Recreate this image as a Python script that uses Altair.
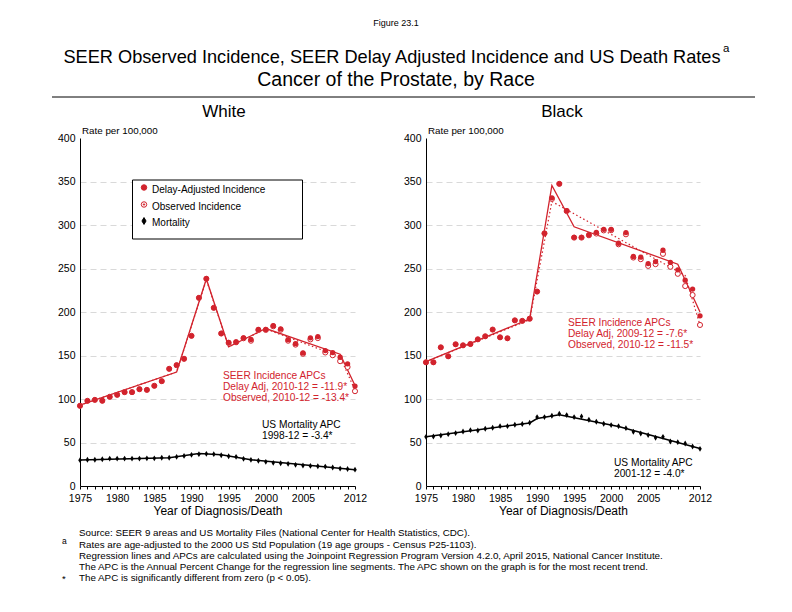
import altair as alt
import pandas as pd

FONT = "Liberation Sans"
RED = "#d2232d"

years = list(range(1975, 2013))
label_years = [1975, 1980, 1985, 1990, 1995, 2000, 2005, 2012]
y_ticks = [0, 50, 100, 150, 200, 250, 300, 350, 400]

white_delay = [92.2, 97.9, 99.0, 98.0, 102.5, 104.8, 107.9, 107.9, 111.3, 110.5,
               115.2, 120.5, 134.7, 138.9, 146.2, 172.6, 216.3, 238.2, 204.8, 175.3,
               165.0, 165.5, 170.3, 168.4, 179.9, 180.0, 184.3, 180.5, 168.2, 163.6,
               153.0, 170.3, 171.8, 155.7, 153.4, 148.0, 140.4, 114.8]
white_obs = [92.2, 97.9, 99.0, 98.0, 102.5, 104.8, 107.9, 107.9, 111.3, 110.5,
             115.2, 120.5, 134.7, 138.9, 146.2, 172.6, 216.3, 238.2, 204.8, 175.3,
             164.5, 165.2, 169.8, 167.0, 179.3, 179.4, 183.6, 179.6, 167.0, 162.5,
             152.0, 168.5, 170.0, 153.5, 150.3, 143.5, 136.8, 109.0]
white_mort = [29.7, 30.2, 30.2, 30.7, 31.5, 31.5, 31.5, 31.5, 31.5, 31.8,
              31.8, 32.5, 32.5, 33.5, 34.6, 35.8, 36.6, 37.0, 36.6, 35.4,
              34.2, 33.5, 31.2, 30.1, 29.0, 27.8, 26.6, 26.2, 25.5, 24.3,
              23.5, 23.1, 22.7, 22.3, 21.2, 20.0, 19.6, 18.8]

white_fit_years = [1975, 1988, 1992, 1995, 2000, 2010, 2012]
white_fit_delay = [93.0, 131.0, 238.0, 160.0, 181.0, 151.5, 115.5]
white_fit_obs_years = [1975, 1988, 1992, 1995, 2000, 2010, 2012]
white_fit_obs = [93.0, 131.0, 237.0, 160.0, 180.5, 148.5, 110.0]
white_fit_mort_years = [1975, 1987, 1991, 1994, 1998, 2012]
white_fit_mort = [30.0, 32.5, 37.3, 35.8, 30.3, 18.8]

black_delay = [142.2, 142.2, 159.4, 149.1, 162.9, 161.7, 163.2, 168.6, 172.1, 179.8,
               170.9, 169.8, 190.4, 189.8, 192.3, 223.5, 290.4, 331.2, 347.3, 316.5,
               285.8, 285.8, 288.8, 291.5, 295.0, 295.0, 279.0, 291.3, 263.8, 263.0,
               255.7, 258.0, 271.0, 257.0, 248.5, 236.6, 226.3, 195.6]
black_obs = [142.2, 142.2, 159.4, 149.1, 162.9, 161.7, 163.2, 168.6, 172.1, 179.8,
             170.9, 169.8, 190.4, 189.8, 192.3, 223.5, 290.4, 330.0, 347.3, 316.0,
             285.5, 285.5, 288.2, 290.2, 293.8, 294.0, 277.8, 289.3, 262.6, 260.7,
             253.0, 255.0, 266.8, 252.0, 243.9, 229.8, 219.5, 185.1]
black_mort = [56.5, 56.9, 58.0, 59.6, 60.8, 62.7, 64.2, 63.8, 65.8, 66.9,
              68.8, 68.8, 70.4, 71.2, 72.7, 79.2, 79.2, 80.8, 83.1, 81.5,
              79.2, 80.0, 76.2, 73.8, 71.5, 70.0, 68.8, 66.5, 62.3, 60.4,
              58.5, 55.4, 56.5, 51.2, 50.4, 48.8, 45.4, 42.7]

black_fit_years = [1975, 1989, 1992, 1995, 2009, 2012]
black_fit_delay = [143.0, 192.0, 345.5, 298.0, 255.0, 200.0]
black_fit_obs_years = [1975, 1989, 1992, 2010, 2012]
black_fit_obs = [143.0, 191.0, 327.0, 242.0, 185.0]
black_fit_mort_years = [1975, 1989, 1990, 1993, 2001, 2012]
black_fit_mort = [56.5, 72.5, 77.5, 82.0, 68.5, 43.0]

W, H = 776, 588
Y_RANGE = [478, 130]
MORT_SHAPE = "M0,-1.25L0.75,0L0,1.25L-0.75,0Z"


def panel(delay, obs, mort, fy, fd, foy, fo, fmy, fm, xr):
    xs = alt.Scale(domain=[1975, 2012], range=xr, nice=False, zero=False)
    ys = alt.Scale(domain=[0, 400], range=Y_RANGE, nice=False)
    labels = ",".join(str(v) for v in label_years)
    xaxis = alt.Axis(values=years, orient="bottom", offset=-(H - Y_RANGE[0]),
                     labelExpr="indexof([" + labels + "], datum.value) >= 0 ? '' + datum.value : ''",
                     tickSize=3, tickColor="black", domainColor="black",
                     labelColor="black", labelFont=FONT, labelFontSize=10.5,
                     labelPadding=4, labelOverlap=False, labelFlush=False,
                     title="Year of Diagnosis/Death", titleFont=FONT,
                     titleFontSize=12, titleFontWeight="normal", titleColor="black",
                     titlePadding=2, grid=False)
    yaxis = alt.Axis(values=y_ticks, orient="left", offset=-xr[0], ticks=False,
                     labelPadding=5, labelFont=FONT, labelFontSize=10.5,
                     labelColor="black", domainColor="black", title=None,
                     grid=True, gridColor="#d9d9d9", gridDash=[6, 4],
                     gridOpacity={"condition": {"test": "datum.value == 0 || datum.value == 400",
                                                "value": 0}, "value": 1})
    pts = pd.DataFrame({"year": years, "delay": delay, "obs": obs, "mort": mort})
    base = alt.Chart(pts)
    X = alt.X("year:Q", scale=xs, axis=xaxis)

    fit_d = alt.Chart(pd.DataFrame({"year": fy, "v": fd})).mark_line(
        color=RED, strokeWidth=1.3).encode(x=X, y=alt.Y("v:Q", scale=ys, axis=yaxis))
    fit_o = alt.Chart(pd.DataFrame({"year": foy, "v": fo})).mark_line(
        color=RED, strokeWidth=1.2, strokeDash=[1.5, 2.5]).encode(
        x=X, y=alt.Y("v:Q", scale=ys, axis=yaxis))
    fit_m = alt.Chart(pd.DataFrame({"year": fmy, "v": fm})).mark_line(
        color="black", strokeWidth=1.5).encode(x=X, y=alt.Y("v:Q", scale=ys, axis=yaxis))
    obs_pts = base.mark_point(shape="circle", filled=True, fill="white", stroke=RED,
                              strokeWidth=1, size=26, opacity=1).encode(
        x=X, y=alt.Y("obs:Q", scale=ys, axis=yaxis))
    del_pts = base.mark_point(shape="circle", filled=True, color=RED, size=28,
                              opacity=1).encode(x=X, y=alt.Y("delay:Q", scale=ys, axis=yaxis))
    mort_pts = base.mark_point(shape=MORT_SHAPE, filled=True, color="black", size=22,
                               opacity=1).encode(x=X, y=alt.Y("mort:Q", scale=ys, axis=yaxis))
    return alt.layer(fit_d, fit_o, obs_pts, del_pts, fit_m, mort_pts)


def txt(s, x, y, size=10.5, color="black", align="left", baseline="middle"):
    return alt.Chart(pd.DataFrame({"t": [s]})).mark_text(
        align=align, baseline=baseline, fontSize=size, font=FONT, color=color).encode(
        text="t:N", x=alt.value(x), y=alt.value(y))


def sym(x, y, shape, fill, stroke, size):
    return alt.Chart(pd.DataFrame({"t": [0]})).mark_point(
        shape=shape, filled=True, fill=fill, stroke=stroke, strokeWidth=1,
        size=size, opacity=1).encode(x=alt.value(x), y=alt.value(y))


white = panel(white_delay, white_obs, white_mort, white_fit_years, white_fit_delay,
              white_fit_obs_years, white_fit_obs, white_fit_mort_years, white_fit_mort,
              [72, 347])
black = panel(black_delay, black_obs, black_mort, black_fit_years, black_fit_delay,
              black_fit_obs_years, black_fit_obs, black_fit_mort_years, black_fit_mort,
              [418, 692])

legend_box = alt.Chart(pd.DataFrame({"t": [0]})).mark_rect(
    fill="white", stroke="black", strokeWidth=1).encode(
    x=alt.value(124.5), x2=alt.value(294.5), y=alt.value(172), y2=alt.value(231))
rule_line = alt.Chart(pd.DataFrame({"t": [0]})).mark_rule(
    color="black", strokeWidth=1).encode(
    x=alt.value(44), x2=alt.value(747), y=alt.value(89))

annotations = [
    txt("Figure 23.1", 388, 15, size=9, align="center"),
    txt("SEER Observed Incidence, SEER Delay Adjusted Incidence and US Death Rates",
        384, 50, size=18.2, align="center"),
    txt("a", 715, 41, size=11.5),
    txt("Cancer of the Prostate, by Race", 388, 72, size=19.5, align="center"),
    txt("White", 216, 104, size=17, align="center"),
    txt("Black", 554, 104, size=17, align="center"),
    txt("Rate per 100,000", 74, 123, size=9.8),
    txt("Rate per 100,000", 420, 123, size=9.8),
    txt("Delay-Adjusted Incidence", 144, 182, size=10),
    txt("Observed Incidence", 144, 198.5, size=10),
    txt("Mortality", 144, 215, size=10),
    txt("SEER Incidence APCs", 215, 368, size=10.2, color=RED),
    txt("Delay Adj, 2010-12 = -11.9*", 215, 379, size=10.2, color=RED),
    txt("Observed, 2010-12 = -13.4*", 215, 390, size=10.2, color=RED),
    txt("US Mortality APC", 254, 417, size=10.2),
    txt("1998-12 = -3.4*", 254, 428, size=10.2),
    txt("SEER Incidence APCs", 560, 314.5, size=10.2, color=RED),
    txt("Delay Adj, 2009-12 = -7.6*", 560, 325.5, size=10.2, color=RED),
    txt("Observed, 2010-12 = -11.5*", 560, 336.5, size=10.2, color=RED),
    txt("US Mortality APC", 606, 454.5, size=10.2),
    txt("2001-12 = -4.0*", 606, 465.5, size=10.2),
    txt("Source: SEER 9 areas and US Mortality Files (National Center for Health Statistics, CDC).",
        71, 525, size=9.8),
    txt("a", 54, 533, size=8.5),
    txt("Rates are age-adjusted to the 2000 US Std Population (19 age groups - Census P25-1103).",
        71, 537, size=9.8),
    txt("Regression lines and APCs are calculated using the Joinpoint Regression Program Version 4.2.0, April 2015, National Cancer Institute.",
        71, 548, size=9.8),
    txt("The APC is the Annual Percent Change for the regression line segments. The APC shown on the graph is for the most recent trend.",
        71, 559, size=9.8),
    txt("*", 54, 571, size=9.5),
    txt("The APC is significantly different from zero (p < 0.05).", 71, 570, size=9.8),
]

legend_syms = [
    sym(136, 179.5, "circle", RED, RED, 30),
    sym(136, 196.5, "circle", "white", RED, 30),
    sym(136, 196.5, "circle", RED, RED, 2),
    sym(136, 213, MORT_SHAPE, "black", "black", 30),
]

chart = alt.layer(
    white, black, rule_line, legend_box, *legend_syms, *annotations
).resolve_scale(x="independent", y="independent").resolve_axis(
    x="independent", y="independent"
).properties(
    width=W, height=H, padding=0,
    autosize=alt.AutoSizeParams(type="none"),
    background="white",
).configure_view(stroke=None)

chart.save("out.html", embed_options={"renderer": "svg", "actions": False})
